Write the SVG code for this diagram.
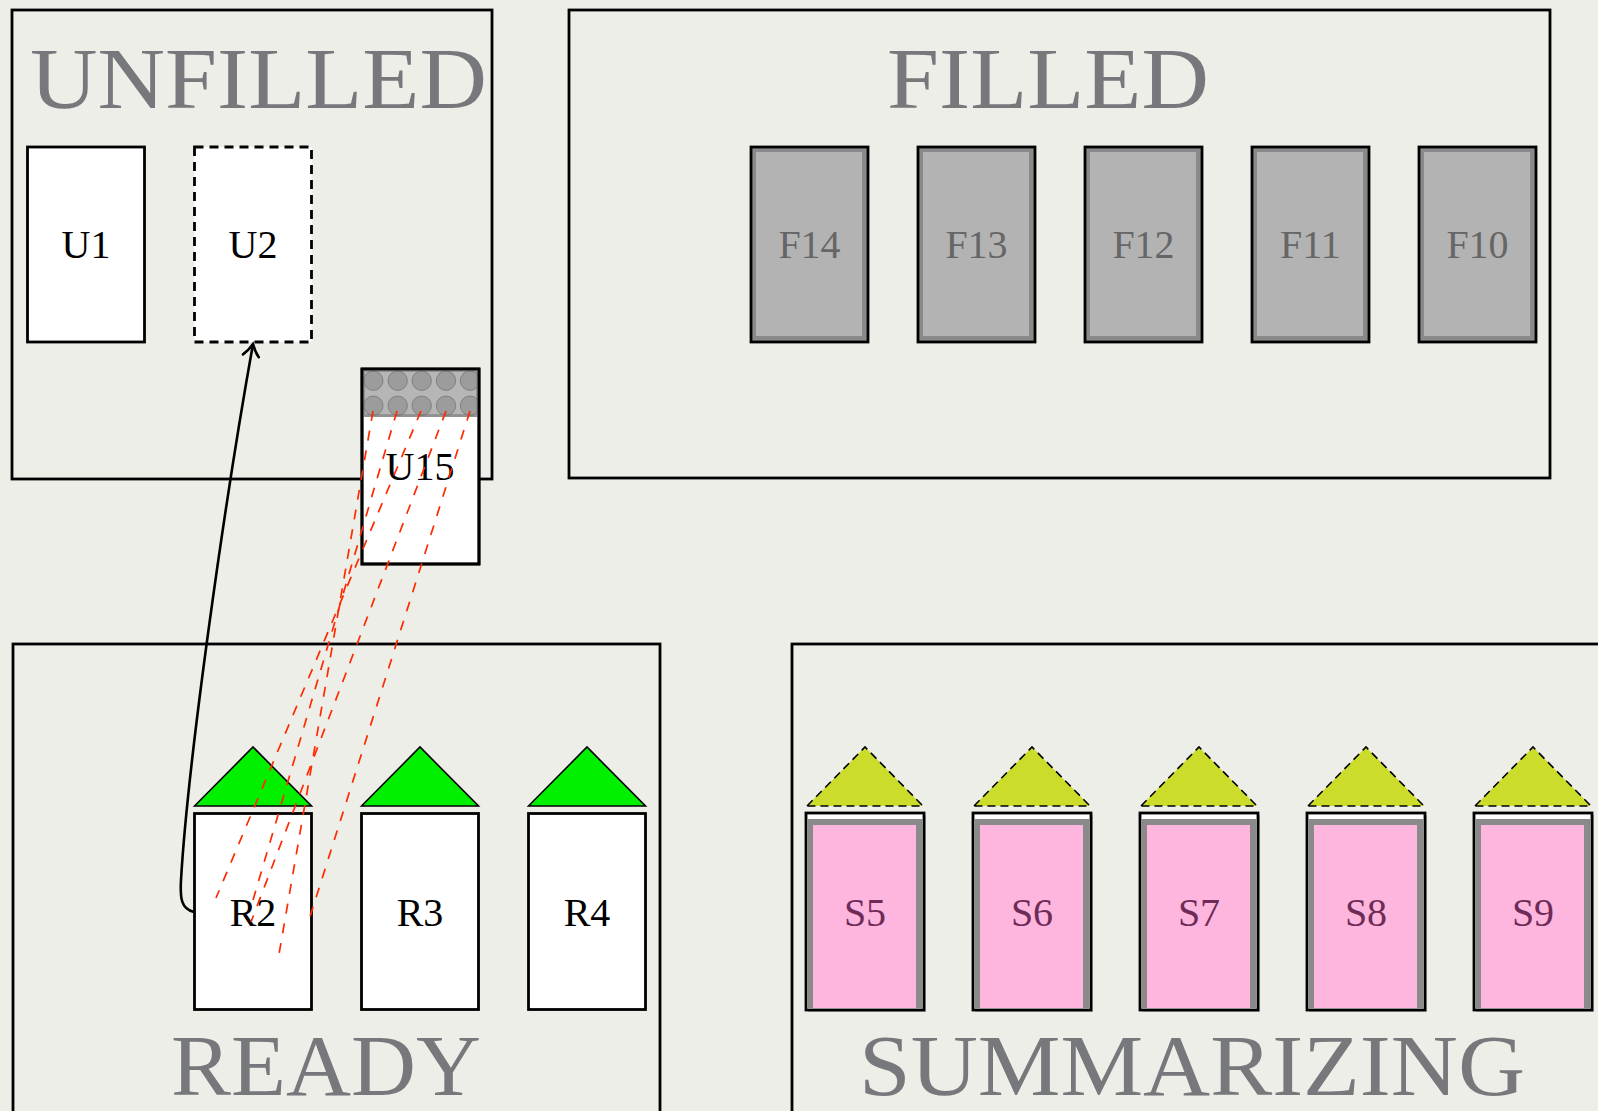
<svg xmlns="http://www.w3.org/2000/svg" width="1598" height="1111" viewBox="0 0 1598 1111">
<style>
.cont{fill:none;stroke:#000;stroke-width:2.8}
.title{font-family:"Liberation Serif","DejaVu Serif",serif;font-size:87px;fill:#76787b}
.lbl{font-family:"Liberation Serif","DejaVu Serif",serif;font-size:40px;text-anchor:middle;fill:#000}
.box{fill:#fff;stroke:#000;stroke-width:2.8}
.dashbox{fill:#fff;stroke:#000;stroke-width:2.8;stroke-dasharray:9 6}
.fout{fill:#8a8a8a;stroke:#000;stroke-width:2.8}
.fin{fill:#b3b3b3}
.ftxt{fill:#666}
.sshadow{fill:#777;opacity:.45}
.sgray{fill:#8a8a8a}
.spink{fill:#ffb6de}
.stxt{fill:#6e2b57}
.gtri{fill:#00f000;stroke:#000;stroke-width:1.6;stroke-linejoin:miter}
.ytri{fill:#cbdc2a;stroke:#000;stroke-width:1.6;stroke-dasharray:8 5}
.red{fill:none;stroke:#ff2a00;stroke-width:1.7;stroke-dasharray:10 10}
.arrow{fill:none;stroke:#000;stroke-width:2.6}
.dot{fill:#8a8a8a;fill-opacity:.6;stroke:#666;stroke-opacity:.6;stroke-width:1}
</style>
<defs>
<marker id="to" markerUnits="userSpaceOnUse" markerWidth="24" markerHeight="24" refX="0" refY="0" viewBox="-14 -12 16 24" orient="auto">
<path d="M-12,-8 C-7,-3 -2,-1 0,0 C-2,1 -7,3 -12,8" fill="none" stroke="#000" stroke-width="2.6" stroke-linecap="round"/>
</marker>
</defs>
<rect x="0" y="0" width="1598" height="1111" fill="#eeeee9"/>

<g id="containers">
<g id="unfilled"><rect class="cont" x="12" y="10" width="480" height="469"/><text class="title" x="30" y="108" textLength="457" lengthAdjust="spacingAndGlyphs">UNFILLED</text></g>
<g id="filled"><rect class="cont" x="569" y="10" width="981" height="468"/><text class="title" x="887" y="108" textLength="322" lengthAdjust="spacingAndGlyphs">FILLED</text></g>
<g id="ready"><rect class="cont" x="13" y="644" width="647" height="490"/><text class="title" x="171" y="1095" textLength="310" lengthAdjust="spacingAndGlyphs">READY</text></g>
<g id="summarizing"><rect class="cont" x="792" y="644" width="900" height="490"/><text class="title" x="859" y="1095" textLength="666" lengthAdjust="spacingAndGlyphs">SUMMARIZING</text></g>
</g>

<g id="U1"><rect class="box" x="27.5" y="147" width="117" height="195"/><text class="lbl" x="86" y="258">U1</text></g>
<g id="U2"><rect class="dashbox" x="194.5" y="147" width="117" height="195"/><text class="lbl" x="253" y="258">U2</text></g>
<g id="U15">
<rect class="box" x="362" y="369" width="117" height="195"/>
<rect x="362" y="369" width="117" height="48" fill="#929292"/>
<rect x="365" y="372" width="111" height="42" fill="#b6b6b6"/>
<circle class="dot" cx="373.3" cy="380.7" r="9.7"/><circle class="dot" cx="397.7" cy="380.7" r="9.7"/><circle class="dot" cx="421.7" cy="380.7" r="9.7"/><circle class="dot" cx="446" cy="380.7" r="9.7"/><circle class="dot" cx="470" cy="380.7" r="9.7"/>
<circle class="dot" cx="373.3" cy="405.7" r="9.7"/><circle class="dot" cx="397.7" cy="405.7" r="9.7"/><circle class="dot" cx="421.7" cy="405.7" r="9.7"/><circle class="dot" cx="446" cy="405.7" r="9.7"/><circle class="dot" cx="470" cy="405.7" r="9.7"/>
<rect x="362" y="369" width="117" height="195" fill="none" stroke="#000" stroke-width="2.8"/>
<text class="lbl" x="420" y="480">U15</text>
</g>

<g id="F14"><rect class="fout" x="751" y="147" width="117" height="195"/><rect class="fin" x="756" y="152" width="106" height="184"/><text class="lbl ftxt" x="809.5" y="258">F14</text></g>
<g id="F13"><rect class="fout" x="918" y="147" width="117" height="195"/><rect class="fin" x="923" y="152" width="106" height="184"/><text class="lbl ftxt" x="976.5" y="258">F13</text></g>
<g id="F12"><rect class="fout" x="1085" y="147" width="117" height="195"/><rect class="fin" x="1090" y="152" width="106" height="184"/><text class="lbl ftxt" x="1143.5" y="258">F12</text></g>
<g id="F11"><rect class="fout" x="1252" y="147" width="117" height="195"/><rect class="fin" x="1257" y="152" width="106" height="184"/><text class="lbl ftxt" x="1310.5" y="258">F11</text></g>
<g id="F10"><rect class="fout" x="1419" y="147" width="117" height="195"/><rect class="fin" x="1424" y="152" width="106" height="184"/><text class="lbl ftxt" x="1477.5" y="258">F10</text></g>

<g id="R2"><polygon class="gtri" points="194.5,806 253,747 311.5,806"/><rect class="box" x="194.5" y="813.5" width="117" height="196"/><text class="lbl" x="253" y="926">R2</text></g>
<g id="R3"><polygon class="gtri" points="361.5,806 420,747 478.5,806"/><rect class="box" x="361.5" y="813.5" width="117" height="196"/><text class="lbl" x="420" y="926">R3</text></g>
<g id="R4"><polygon class="gtri" points="528.5,806 587,747 645.5,806"/><rect class="box" x="528.5" y="813.5" width="117" height="196"/><text class="lbl" x="587" y="926">R4</text></g>

<g id="S5"><polygon class="ytri" points="807,806 865,747 923,806"/><rect class="sshadow" x="808" y="815" width="118" height="197"/><rect class="box" x="806" y="813" width="118" height="197"/><rect class="sgray" x="807.4" y="819" width="115.2" height="189.6"/><rect class="spink" x="813" y="825" width="103" height="183"/><text class="lbl stxt" x="865" y="926">S5</text></g>
<g id="S6"><polygon class="ytri" points="974,806 1032,747 1090,806"/><rect class="sshadow" x="975" y="815" width="118" height="197"/><rect class="box" x="973" y="813" width="118" height="197"/><rect class="sgray" x="974.4" y="819" width="115.2" height="189.6"/><rect class="spink" x="980" y="825" width="103" height="183"/><text class="lbl stxt" x="1032" y="926">S6</text></g>
<g id="S7"><polygon class="ytri" points="1141,806 1199,747 1257,806"/><rect class="sshadow" x="1142" y="815" width="118" height="197"/><rect class="box" x="1140" y="813" width="118" height="197"/><rect class="sgray" x="1141.4" y="819" width="115.2" height="189.6"/><rect class="spink" x="1147" y="825" width="103" height="183"/><text class="lbl stxt" x="1199" y="926">S7</text></g>
<g id="S8"><polygon class="ytri" points="1308,806 1366,747 1424,806"/><rect class="sshadow" x="1309" y="815" width="118" height="197"/><rect class="box" x="1307" y="813" width="118" height="197"/><rect class="sgray" x="1308.4" y="819" width="115.2" height="189.6"/><rect class="spink" x="1314" y="825" width="103" height="183"/><text class="lbl stxt" x="1366" y="926">S8</text></g>
<g id="S9"><polygon class="ytri" points="1475,806 1533,747 1591,806"/><rect class="sshadow" x="1476" y="815" width="118" height="197"/><rect class="box" x="1474" y="813" width="118" height="197"/><rect class="sgray" x="1475.4" y="819" width="115.2" height="189.6"/><rect class="spink" x="1481" y="825" width="103" height="183"/><text class="lbl stxt" x="1533" y="926">S9</text></g>

<g id="connectors">
<path class="arrow" d="M194,912 C181,909 180,898 181,880 C188,760 225,500 253,344" marker-end="url(#to)"/>
<line class="red" x1="373" y1="411" x2="278" y2="960"/>
<line class="red" x1="397" y1="411" x2="253" y2="900"/>
<line class="red" x1="421" y1="411" x2="216" y2="898"/>
<line class="red" x1="446" y1="411" x2="251" y2="922"/>
<line class="red" x1="470" y1="411" x2="308" y2="923"/>
</g>
</svg>
